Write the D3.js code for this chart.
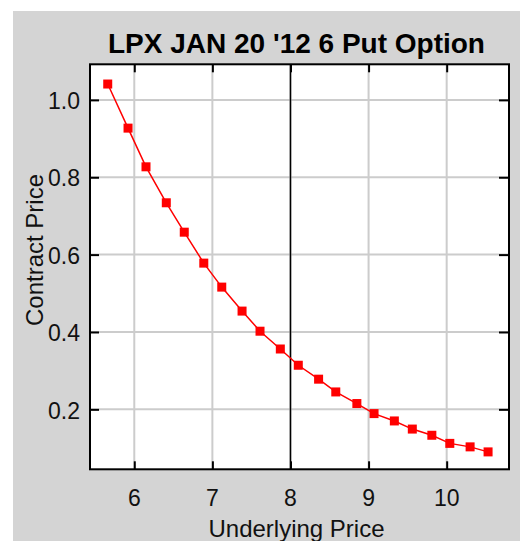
<!DOCTYPE html>
<html><head><meta charset="utf-8">
<script src="https://cdn.jsdelivr.net/npm/d3@7"></script>
<style>html,body{margin:0;padding:0;background:#fff;}svg{display:block;}</style>
</head><body>
<svg id="c" width="520" height="541"></svg>
<script>
const title = "LPX JAN 20 '12 6 Put Option";
const xLabel = "Underlying Price";
const yLabel = "Contract Price";
const underlying = [5.66,5.92,6.15,6.41,6.64,6.89,7.12,7.38,7.61,7.87,8.10,8.36,8.58,8.85,9.07,9.33,9.56,9.81,10.04,10.30,10.53];
const contract = [1.041,0.927,0.827,0.734,0.658,0.578,0.516,0.454,0.402,0.356,0.314,0.278,0.245,0.215,0.189,0.170,0.149,0.133,0.112,0.103,0.090];
const xTicks = [6,7,8,9,10];
const yTicks = [0.2,0.4,0.6,0.8,1.0];
const currentPrice = [8];

const svg = d3.select("#c");
const L=90, R=509, T=64.3, B=469.3;
const x = d3.scaleLinear().domain([5.433,10.798]).range([L,R]);
const y = d3.scaleLinear().domain([0.045,1.092]).range([B,T]);
const font = "'Liberation Sans', Arial, sans-serif";

svg.append("rect").attr("x",13).attr("y",11).attr("width",507).attr("height",530).attr("fill","#d4d4d4");
svg.append("rect").attr("x",L).attr("y",T).attr("width",R-L).attr("height",B-T).attr("fill","#fff");

// grid
svg.append("g").selectAll("line").data(xTicks).join("line")
  .attr("x1",d=>x(d)).attr("x2",d=>x(d)).attr("y1",T).attr("y2",B)
  .attr("stroke","#cccccc").attr("stroke-width",2);
svg.append("g").selectAll("line").data(yTicks).join("line")
  .attr("x1",L).attr("x2",R).attr("y1",d=>y(d)).attr("y2",d=>y(d))
  .attr("stroke","#cccccc").attr("stroke-width",2);

// current price line
svg.append("g").selectAll("line").data(currentPrice).join("line")
  .attr("x1",d=>x(d)).attr("x2",d=>x(d)).attr("y1",T).attr("y2",B)
  .attr("stroke","#000").attr("stroke-width",1.5);

// axes (inward ticks)
const axB = d3.axisBottom(x).tickValues(xTicks).tickSize(-8).tickFormat("");
const axT = d3.axisTop(x).tickValues(xTicks).tickSize(-8).tickFormat("");
const axL = d3.axisLeft(y).tickValues(yTicks).tickSize(-9).tickFormat("");
const axR = d3.axisRight(y).tickValues(yTicks).tickSize(-10).tickFormat("");
[[axB,`translate(0,${B})`],[axT,`translate(0,${T})`],[axL,`translate(${L},0)`],[axR,`translate(${R},0)`]].forEach(([a,t])=>{
  const g=svg.append("g").attr("transform",t).call(a);
  g.selectAll("line").attr("stroke","#000").attr("stroke-width",2);
  g.select(".domain").remove();
});
svg.append("rect").attr("x",L).attr("y",T).attr("width",R-L).attr("height",B-T)
  .attr("fill","none").attr("stroke","#000").attr("stroke-width",2);

// tick labels
svg.append("g").selectAll("text").data(xTicks).join("text")
  .attr("x",d=>x(d)).attr("y",506).attr("text-anchor","middle")
  .attr("font-family",font).attr("font-size",23).attr("fill","#111").text(d=>d);
svg.append("g").selectAll("text").data(yTicks).join("text")
  .attr("x",80).attr("y",d=>y(d)).attr("dy","0.4em").attr("text-anchor","end")
  .attr("font-family",font).attr("font-size",23).attr("fill","#111").text(d=>d.toFixed(1));

// axis titles
svg.append("text").attr("x",296.5).attr("y",537).attr("text-anchor","middle")
  .attr("font-family",font).attr("font-size",24).attr("fill","#111").text(xLabel);
svg.append("text").attr("transform","translate(43,250) rotate(-90)").attr("text-anchor","middle")
  .attr("font-family",font).attr("font-size",24).attr("fill","#111").text(yLabel);
svg.append("text").attr("x",296.5).attr("y",53).attr("text-anchor","middle")
  .attr("font-family",font).attr("font-size",28).attr("font-weight","bold").attr("fill","#000").text(title);

// series
const pts = underlying.map((u,i)=>[u,contract[i]]);
svg.append("path").datum(pts)
  .attr("d",d3.line().x(d=>x(d[0])).y(d=>y(d[1])))
  .attr("fill","none").attr("stroke","#ff0000").attr("stroke-width",1.5);
svg.append("g").selectAll("rect").data(pts).join("rect")
  .attr("x",d=>x(d[0])-4.5).attr("y",d=>y(d[1])-4.5).attr("width",9).attr("height",9)
  .attr("fill","#ff0000");
</script>
</body></html>
